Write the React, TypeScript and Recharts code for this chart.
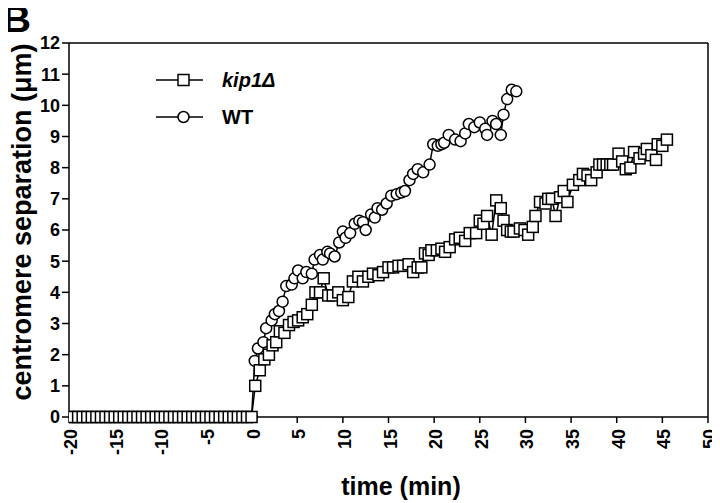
import {
  LineChart,
  Line,
  XAxis,
  YAxis,
  Label,
  ReferenceLine,
} from 'recharts'

const FONT = '"Liberation Sans", Arial, Helvetica, sans-serif'

// kip1Δ: time (min) and centromere separation (µm)
const kipTime = [
  -20, -19.5, -19, -18.5, -18, -17.5, -17, -16.5, -16, -15.5, -15, -14.5, -14, -13.5,
  -13, -12.5, -12, -11.5, -11, -10.5, -10, -9.5, -9, -8.5, -8, -7.5, -7, -6.5, -6,
  -5.5, -5, -4.5, -4, -3.5, -3, -2.5, -2, -1.5, -1, -0.5,
  0, 0.4, 0.9, 1.4, 1.9, 2.3, 2.7, 3.1, 3.6, 4.1, 4.6, 5.1, 5.6, 6.1, 6.6, 7.0, 7.5,
  7.9, 8.4, 8.9, 9.5, 10.0, 10.6, 11.1, 11.7, 12.2, 12.8, 13.3, 13.9, 14.4, 15.0,
  15.5, 16.1, 16.6, 17.2, 17.7, 18.2, 18.6, 19.0, 19.4, 19.7, 20.3, 20.8, 21.2, 21.7,
  22.3, 22.8, 23.4, 23.9, 24.6, 25.0, 25.4, 25.8, 26.3, 26.8, 27.3, 27.6, 28.0, 28.4,
  28.7, 29.4, 29.9, 30.3, 30.8, 31.1, 31.6, 32.2, 32.5, 32.9, 33.3, 33.8, 34.2, 34.6,
  35.2, 35.9, 36.3, 36.8, 37.2, 37.8, 38.1, 38.5, 38.9, 39.3, 39.6, 40.2, 40.6, 41.0,
  41.5, 41.9, 42.5, 43.0, 43.3, 43.8, 44.3, 44.5, 45.0, 45.5,
]
const kipSep = [
  0, 0, 0, 0, 0, 0, 0, 0, 0, 0, 0, 0, 0, 0, 0, 0, 0, 0, 0, 0, 0, 0, 0, 0, 0, 0, 0, 0,
  0, 0, 0, 0, 0, 0, 0, 0, 0, 0, 0, 0,
  0, 1.0, 1.5, 1.85, 2.0, 2.3, 2.4, 2.75, 2.7, 2.95, 3.05, 3.1, 3.2, 3.3, 3.6, 4.0,
  4.0, 4.45, 3.9, 3.9, 4.0, 3.75, 3.85, 4.35, 4.5, 4.35, 4.5, 4.6, 4.55, 4.65, 4.8,
  4.8, 4.85, 4.85, 4.9, 4.65, 4.8, 4.8, 5.25, 5.2, 5.35, 5.35, 5.4, 5.3, 5.45, 5.7,
  5.75, 5.65, 5.9, 5.9, 6.3, 6.2, 6.45, 5.85, 6.95, 6.7, 6.3, 6.0, 5.95, 5.95, 6.05,
  6.0, 5.85, 6.1, 6.45, 6.9, 6.85, 7.0, 7.0, 6.45, 7.05, 7.25, 6.9, 7.45, 7.6, 7.8,
  7.75, 7.6, 7.85, 8.1, 8.1, 8.1, 8.1, 8.1, 8.45, 8.2, 7.95, 8.0, 8.5, 8.3, 8.45, 8.6,
  8.4, 8.25, 8.75, 8.7, 8.9,
]

// WT
const wtTime = [
  0, 0.35, 0.7, 1.3, 1.6, 2.2, 2.55, 3.0, 3.4, 3.8, 4.4, 4.7, 5.1, 5.6, 6.0, 6.6, 6.9,
  7.5, 7.8, 8.3, 8.6, 9.1, 9.6, 10.0, 10.3, 10.8, 11.3, 11.8, 12.2, 12.5, 13.1, 13.5,
  13.8, 14.3, 14.8, 15.3, 15.9, 16.4, 16.8, 17.3, 17.7, 18.2, 18.8, 19.5, 19.9, 20.4,
  20.8, 21.1, 21.6, 22.3, 22.9, 23.4, 23.8, 24.4, 25.0, 25.6, 25.8, 26.4, 26.8, 27.3,
  27.6, 28.0, 28.5, 29.0,
]
const wtSep = [
  0, 1.8, 2.2, 2.4, 2.85, 3.1, 3.3, 3.4, 3.7, 4.2, 4.25, 4.45, 4.7, 4.45, 4.65, 4.6,
  5.05, 5.2, 5.05, 5.3, 5.25, 5.15, 5.6, 5.95, 5.75, 5.9, 6.2, 6.3, 6.25, 6.0, 6.5, 6.4,
  6.7, 6.65, 6.85, 7.1, 7.15, 7.2, 7.25, 7.6, 7.8, 7.95, 7.85, 8.1, 8.75, 8.7, 8.75,
  8.8, 9.05, 8.9, 8.85, 9.1, 9.4, 9.3, 9.45, 9.25, 9.05, 9.5, 9.4, 9.05, 9.7, 10.2,
  10.5, 10.45,
]

const xTicks = [-20, -15, -10, -5, 0, 5, 10, 15, 20, 25, 30, 35, 40, 45, 50]
const yTicks = [0, 1, 2, 3, 4, 5, 6, 7, 8, 9, 10, 11, 12]

const kipData = kipTime.map((t, i) => ({ t, v: kipSep[i] }))
const wtData = wtTime.map((t, i) => ({ t, v: wtSep[i] }))

const SquareDot = (props: any) => {
  const { cx, cy, index } = props
  if (cx == null || cy == null) return null
  return (
    <rect
      key={`sq-${index}`}
      x={cx - 5.5}
      y={cy - 5.5}
      width={11}
      height={11}
      fill="#fff"
      stroke="#000"
      strokeWidth={1.5}
    />
  )
}

const XTick = (props: any) => {
  const { x, y, payload } = props
  const tx = x + 2
  return (
    <text
      x={tx}
      y={y}
      transform={`rotate(-90, ${tx}, ${y})`}
      textAnchor="end"
      dominantBaseline="central"
      fontFamily={FONT}
      fontWeight="bold"
      fontSize={18}
      fill="#000"
    >
      {payload.value}
    </text>
  )
}

// legend drawn as a small overlay so it doesn't steal space from the plot
const ChartLegend = () => (
  <svg
    width={160}
    height={62}
    style={{ position: 'absolute', left: 148, top: 60, overflow: 'visible' }}
  >
    <line x1={0} y1={12} x2={47} y2={12} stroke="#000" strokeWidth={1.5} />
    <rect x={22} y={6.5} width={11} height={11} fill="#fff" stroke="#000" strokeWidth={1.5} />
    <text x={66} y={12} dominantBaseline="central" fontFamily={FONT} fontWeight="bold" fontStyle="italic" fontSize={20}>
      kip1Δ
    </text>
    <line x1={0} y1={49} x2={47} y2={49} stroke="#000" strokeWidth={1.5} />
    <circle cx={27.5} cy={49} r={5.5} fill="#fff" stroke="#000" strokeWidth={1.5} />
    <text x={66} y={49} dominantBaseline="central" fontFamily={FONT} fontWeight="bold" fontSize={20}>
      WT
    </text>
  </svg>
)

export default function App() {
  return (
    <div style={{ position: 'relative', width: 712, height: 495 }}>
      <div
        style={{
          position: 'absolute',
          left: -6,
          top: -6,
          fontFamily: FONT,
          fontWeight: 'bold',
          fontSize: 36,
          lineHeight: 1,
          transform: 'scaleX(1.12)',
          transformOrigin: 'left top',
        }}
      >
        B
      </div>
      <LineChart
        width={712}
        height={495}
        margin={{ top: 35, right: 12, left: 0, bottom: 0 }}
      >
        <XAxis
          dataKey="t"
          type="number"
          domain={[-20, 50]}
          ticks={xTicks}
          interval={0}
          allowDataOverflow
          height={86}
          tickSize={6}
          tickMargin={6}
          tick={<XTick />}
          axisLine={{ stroke: '#000', strokeWidth: 1.5 }}
          tickLine={{ stroke: '#000', strokeWidth: 1.5 }}
        >
          <Label
            content={() => (
              <text
                x={393}
                y={487}
                textAnchor="middle"
                fontFamily={FONT}
                fontWeight="bold"
                fontSize={25}
                fill="#000"
              >
                time (min)
              </text>
            )}
          />
        </XAxis>
        <YAxis
          type="number"
          domain={[0, 12]}
          ticks={yTicks}
          interval={0}
          width={61}
          tickSize={7}
          tickMargin={2}
          tick={{ fontFamily: FONT, fontWeight: 'bold', fontSize: 18, fill: '#000' }}
          axisLine={{ stroke: '#000', strokeWidth: 1.5 }}
          tickLine={{ stroke: '#000', strokeWidth: 1.5 }}
        >
          <Label
            content={() => (
              <text
                x={14}
                y={214}
                transform="rotate(-90, 14, 214)"
                textAnchor="middle"
                dominantBaseline="central"
                fontFamily={FONT}
                fontWeight="bold"
                fontSize={27}
                fill="#000"
              >
                centromere separation (μm)
              </text>
            )}
          />
        </YAxis>
        <ReferenceLine y={12} stroke="#000" strokeWidth={1.5} />
        <ReferenceLine x={50} stroke="#000" strokeWidth={1.5} />
        <Line
          data={wtData}
          dataKey="v"
          name="WT"
          type="linear"
          stroke="#000"
          strokeWidth={1.5}
          dot={{ r: 5.5, fill: '#fff', stroke: '#000', strokeWidth: 1.5 }}
          activeDot={false}
          isAnimationActive={false}
        />
        <Line
          data={kipData}
          dataKey="v"
          name="kip1Δ"
          type="linear"
          stroke="#000"
          strokeWidth={1.5}
          dot={<SquareDot />}
          activeDot={false}
          isAnimationActive={false}
        />
      </LineChart>
      <ChartLegend />
    </div>
  )
}
